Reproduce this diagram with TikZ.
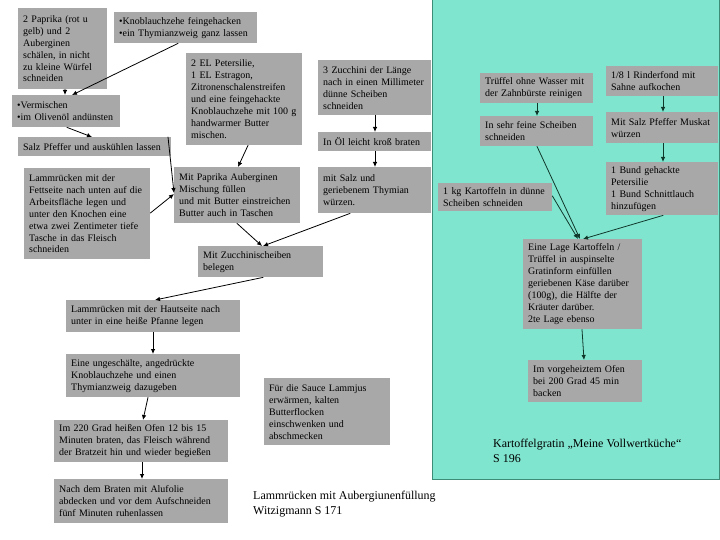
\documentclass[tikz,border=0pt]{standalone}
\usepackage{fontspec}
\setmainfont{Liberation Serif}
\usetikzlibrary{arrows.meta}

\definecolor{boxgray}{RGB}{168,168,168}
\definecolor{panelgreen}{RGB}{128,229,207}
\definecolor{paneledge}{RGB}{60,140,120}
\definecolor{panelarrow}{RGB}{15,55,42}

\begin{document}
\begin{tikzpicture}[
            x=1bp, y=-1bp,
            >={Latex[length=5bp, width=4.5bp]},
            line cap=round,
            recipe box/.style={
                fill=boxgray, anchor=north west, align=left,
                inner xsep=5bp, inner ysep=3bp,
                font=\fontsize{10}{12}\selectfont
            },
            step arrow/.style={->, line width=0.8pt, black},
            panel arrow/.style={->, line width=0.8pt, panelarrow},
            title text/.style={anchor=north west, align=left, inner sep=0pt,
                font=\fontsize{12}{14.5}\selectfont},
        ]
        \useasboundingbox (0,0) rectangle (720,540);

        \draw[paneledge, fill=panelgreen] (432,-1) rectangle (719.5,479);

        % Lammruecken
        \node[recipe box, text width=79bp, minimum height=81bp] (paprika) at (18,8)
            {2 Paprika (rot u\\ gelb) und 2\\ Auberginen\\ schälen, in nicht\\ zu kleine Würfel\\ schneiden};
        \node[recipe box, text width=133bp, minimum height=31bp] (knob) at (114,12)
            {•Knoblauchzehe feingehacken\\ •ein Thymianzweig ganz lassen};
        \node[recipe box, text width=106bp, minimum height=92bp] (peter) at (186,53)
            {2 EL Petersilie,\\ 1 EL Estragon,\\ Zitronenschalenstreifen\\ und eine feingehackte\\ Knoblauchzehe mit 100 g\\ handwarmer Butter\\ mischen.};
        \node[recipe box, text width=103bp, minimum height=55bp] (zucchini) at (318,60)
            {3 Zucchini der Länge\\ nach in einen Millimeter\\ dünne Scheiben\\ schneiden};
        \node[recipe box, text width=103bp, minimum height=19bp] (oel) at (318,132)
            {In Öl leicht kroß braten};
        \node[recipe box, text width=103bp, minimum height=46bp] (wuerzen) at (318,167)
            {mit Salz und\\ geriebenem Thymian\\ würzen.};
        \node[recipe box, text width=98bp, minimum height=32bp] (vermischen) at (12,95)
            {•Vermischen\\ •im Olivenöl andünsten};
        \node[recipe box, text width=143bp, minimum height=19bp] (auskuehlen) at (18,137)
            {Salz Pfeffer und auskühlen lassen};
        \node[recipe box, text width=116bp, minimum height=91bp] (fett) at (24,168)
            {Lammrücken mit der\\ Fettseite nach unten auf die\\ Arbeitsfläche legen und\\ unter den Knochen eine\\ etwa zwei Zentimeter tiefe\\ Tasche in das Fleisch\\ schneiden};
        \node[recipe box, text width=116bp, minimum height=56bp] (fuellen) at (174,167)
            {Mit Paprika Auberginen\\ Mischung füllen\\ und mit Butter einstreichen\\ Butter auch in Taschen};
        \node[recipe box, text width=115bp, minimum height=31bp] (belegen) at (198,246)
            {Mit Zucchinischeiben\\ belegen};
        \node[recipe box, text width=164bp, minimum height=32bp] (haut) at (66,300)
            {Lammrücken mit der Hautseite nach\\ unter in eine heiße Pfanne legen};
        \node[recipe box, text width=164bp, minimum height=43bp] (ungeschaelt) at (66,354)
            {Eine ungeschälte, angedrückte\\ Knoblauchzehe und einen\\ Thymianzweig dazugeben};
        \node[recipe box, text width=164bp, minimum height=42bp] (ofen) at (54,420)
            {Im 220 Grad heißen Ofen 12 bis 15\\ Minuten braten, das Fleisch während\\ der Bratzeit hin und wieder begießen};
        \node[recipe box, text width=164bp, minimum height=44bp] (alufolie) at (54,479)
            {Nach dem Braten mit Alufolie\\ abdecken und vor dem Aufschneiden\\ fünf Minuten ruhenlassen};
        \node[recipe box, text width=116bp, minimum height=67bp] (sauce) at (264,378)
            {Für die Sauce Lammjus\\ erwärmen, kalten\\ Butterflocken\\ einschwenken und\\ abschmecken};
        \node[title text] (lammtitel) at (253,491)
            {Lammrücken mit Aubergiunenfüllung\\ Witzigmann S 171};

        \draw[step arrow] ([xshift=47bp]paprika.south west) -- ([xshift=53bp]vermischen.north west);
        \draw[step arrow] ([xshift=64bp]knob.south west) -- ([xshift=60bp]vermischen.north west);
        \draw[step arrow] ([xshift=55bp]vermischen.south west) -- ([xshift=74bp]auskuehlen.north west);
        \draw[step arrow] ([xshift=150bp]auskuehlen.north west) -- ([yshift=-26bp]fuellen.north west);
        \draw[step arrow] ([yshift=-45bp]fett.north east) -- ([yshift=-27bp]fuellen.north west);
        \draw[step arrow] ([xshift=62bp]peter.south west) -- ([xshift=64bp]fuellen.north west);
        \draw[step arrow] ([xshift=57bp]zucchini.south west) -- ([xshift=57bp]oel.north west);
        \draw[step arrow] ([xshift=57bp]oel.south west) -- ([xshift=57bp]wuerzen.north west);
        \draw[step arrow] ([xshift=63bp]fuellen.south west) -- ([xshift=64bp]belegen.north west);
        \draw[step arrow] ([xshift=32bp]wuerzen.south west) -- ([xshift=65bp]belegen.north west);
        \draw[step arrow] ([xshift=65bp]belegen.south west) -- ([xshift=89bp]haut.north west);
        \draw[step arrow] ([xshift=87bp]haut.south west) -- ([xshift=87bp]ungeschaelt.north west);
        \draw[step arrow] ([xshift=82bp]ungeschaelt.south west) -- ([xshift=89bp]ofen.north west);
        \draw[step arrow] ([xshift=88bp]ofen.south west) -- ([xshift=88bp]alufolie.north west);

        % Kartoffelgratin
        \node[recipe box, text width=103bp, minimum height=30bp] (trueffel) at (480,73)
            {Trüffel ohne Wasser mit\\ der Zahnbürste reinigen};
        \node[recipe box, text width=103bp, minimum height=30bp] (scheiben) at (480,116)
            {In sehr feine Scheiben\\ schneiden};
        \node[recipe box, text width=102bp, minimum height=30bp] (rinder) at (606,66)
            {1/8 l Rinderfond mit\\ Sahne aufkochen};
        \node[recipe box, text width=102bp, minimum height=31bp] (muskat) at (606,112)
            {Mit Salz Pfeffer Muskat\\ würzen};
        \node[recipe box, text width=102bp, minimum height=53bp] (bund) at (606,162)
            {1 Bund gehackte\\ Petersilie\\ 1 Bund Schnittlauch\\ hinzufügen};
        \node[recipe box, text width=104bp, minimum height=28bp] (kartoffeln) at (438,183)
            {1 kg Kartoffeln in dünne\\ Scheiben schneiden};
        \node[recipe box, text width=109bp, minimum height=90bp] (lage) at (523,239)
            {Eine Lage Kartoffeln /\\ Trüffel in auspinselte\\ Gratinform einfüllen\\ geriebenen Käse darüber\\ (100g), die Hälfte der\\ Kräuter darüber.\\ 2te Lage ebenso};
        \node[recipe box, text width=104bp, minimum height=42bp] (backen) at (528,360)
            {Im vorgeheiztem Ofen\\ bei 200 Grad 45 min\\ backen};
        \node[title text] (gratintitel) at (493,439)
            {Kartoffelgratin „Meine Vollwertküche“\\ S 196};

        \draw[panel arrow] ([xshift=57bp]trueffel.south west) -- ([xshift=57bp]scheiben.north west);
        \draw[panel arrow] ([xshift=57bp]rinder.south west) -- ([xshift=57bp]muskat.north west);
        \draw[panel arrow] ([xshift=57bp]muskat.south west) -- ([xshift=57bp]bund.north west);
        \draw[panel arrow] ([xshift=57bp]scheiben.south west) -- ([xshift=57bp]lage.north west);
        \draw[panel arrow] ([yshift=-13bp]kartoffeln.north east) -- ([xshift=55bp]lage.north west);
        \draw[panel arrow] ([xshift=57bp]bund.south west) -- ([xshift=60bp]lage.north west);
        \draw[panel arrow] ([xshift=59bp]lage.south west) -- ([xshift=56bp]backen.north west);
        \end{tikzpicture}
\end{document}
